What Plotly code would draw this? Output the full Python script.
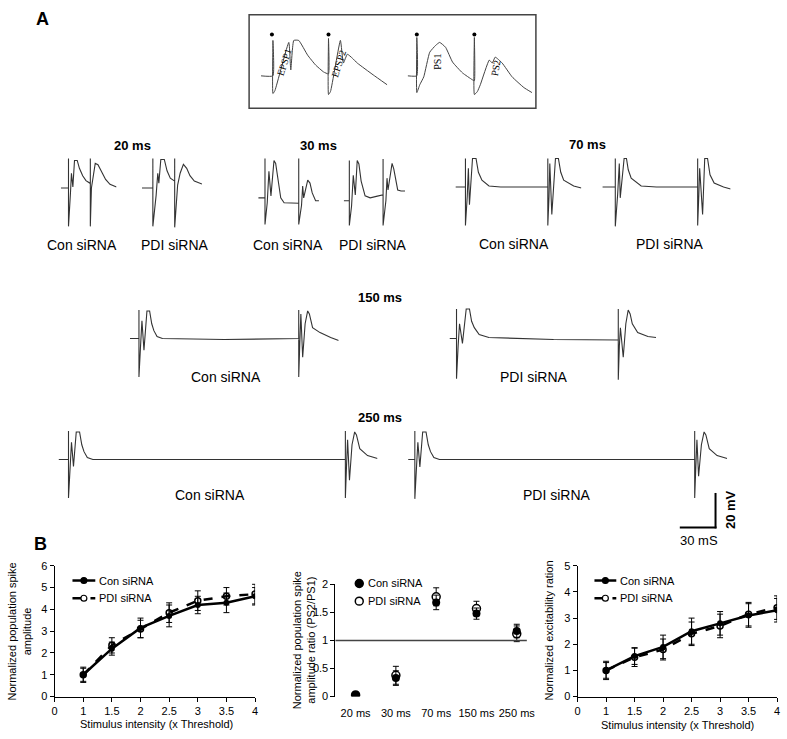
import plotly.graph_objects as go

W, H = 787, 739

# ---------------- Panel B data ----------------
intensity_labels = ["0", "1", "1.5", "2", "2.5", "3", "3.5", "4"]
stim_x = ["1", "1.5", "2", "2.5", "3", "3.5", "4"]

ps_con = [1.0, 2.2, 3.15, 3.7, 4.2, 4.3, 4.6]
ps_con_err = [0.35, 0.3, 0.45, 0.5, 0.4, 0.45, 0.4]
ps_pdi = [1.0, 2.35, 3.1, 3.85, 4.4, 4.6, 4.7]
ps_pdi_err = [0.3, 0.35, 0.4, 0.45, 0.45, 0.4, 0.45]

ppr_cats = ["20 ms", "30 ms", "70 ms", "150 ms", "250 ms"]
ppr_con = [0.03, 0.33, 1.68, 1.48, 1.17]
ppr_con_err = [0.02, 0.13, 0.13, 0.1, 0.12]
ppr_pdi = [0.03, 0.38, 1.78, 1.57, 1.12]
ppr_pdi_err = [0.02, 0.16, 0.16, 0.13, 0.14]

ex_con = [1.0, 1.55, 1.9, 2.5, 2.8, 3.1, 3.3]
ex_con_err = [0.35, 0.32, 0.45, 0.5, 0.45, 0.45, 0.45]
ex_pdi = [1.0, 1.5, 1.8, 2.4, 2.7, 3.15, 3.4]
ex_pdi_err = [0.3, 0.35, 0.4, 0.45, 0.45, 0.45, 0.45]

series_names = ["Con siRNA", "PDI siRNA"]

# ---------------- Panel A data: recordings (ms from 1st stimulus, mV from baseline) ----------------
rec_intervals = [20, 20, 30, 30, 70, 70, 150, 150, 250, 250]
rec_groups = ["Con siRNA", "PDI siRNA"] * 5

t_20_con = [-7, 0, 0, 0, 1.8, 2.7, 4.0, 5.5, 8.0, 10, 13, 16, 19.5, 20, 20, 20, 21, 22.5, 24.5, 27, 30, 34, 38, 44]
v_20_con = [0, 0, 12, -15.6, -2, 6, 0.4, 11.2, 11.2, 8, 5, 3, 2, 2, 12, -15.6, 0, 5, 10, 9.5, 7, 3.5, 1.5, 0.4]
t_20_pdi = [-10, 0, 0, 0, 3, 4.5, 5.5, 7.3, 10.5, 13, 16, 19.5, 20, 20, 20, 22.7, 25, 28, 31, 34, 38, 45]
v_20_pdi = [0, 0, 12, -15.6, -3, 6, 2, 11.6, 11.6, 7, 4, 2.8, 2.8, 12, -16, 1.2, 6, 9.6, 8, 5, 2.8, 1.6]
t_30_con = [-6, 0, 0, 0, 2, 3.5, 5.3, 8, 9.5, 11.5, 14, 17, 24, 30, 30, 30, 32.5, 33.5, 34.4, 38, 40, 42, 45, 48]
v_30_con = [0, 0, 16, -10.8, -2, 10.8, 0.8, 15.2, 14, 7, 0, -2, -2.2, -2.2, 16, -10.8, -3, 4.8, 0, 7.2, 6, 2, -1.2, -1.2]
t_30_pdi = [-5, 0, 0, 0, 2, 3.5, 5.3, 7, 8.5, 10.5, 14, 18.5, 24, 30, 30, 30, 32.5, 33.5, 34.4, 38, 39.5, 43, 46, 49.5]
v_30_pdi = [0, 0, 16.4, -10, -2, 10.4, 2.4, 16.4, 15, 8, 2, 1.2, 1.8, 2.4, 17, -10, 0, 9.2, 4.4, 15.2, 13, 4.4, 4, 4]
t_70_con = [-8.5, 0, 0, 0, 1.5, 2.5, 3.4, 6, 9, 11, 14, 20, 30, 70, 70, 70, 71, 71.7, 73.4, 76.5, 79, 81, 83.5, 92, 98.5]
v_70_con = [0, 0, 11.6, -15.6, -4, 7.6, -7.2, 11.6, 11.6, 6, 2.8, 0.4, 0, 0, 11.6, -15.6, -4, 9.6, -11.2, 11.6, 11.6, 6, 2.8, 0.4, -0.4]
t_70_pdi = [-11, 0, 0, 0, 2, 3.4, 4.2, 7.5, 9.5, 11, 13.5, 22, 35, 70, 70, 70, 71, 71.7, 74.2, 76, 78.4, 80.5, 84, 92, 98]
v_70_pdi = [0, 0, 11.6, -16, -3, 9.6, -4.4, 11.6, 11.6, 7, 3.6, 0.4, 0, 0, 11.6, -15.6, -3, 7.6, -11.2, 11.6, 11.6, 5, 1.6, 0, -0.8]
t_150_con = [-8.5, 0, 0, 0, 1.5, 2.8, 4.7, 7.5, 10, 12, 14, 17, 22, 80, 150, 150, 150, 151, 152, 153.7, 156, 158.4, 160, 163, 170, 180, 187.5]
v_150_con = [0, 0, 11.6, -15.6, -3, 7.2, -4.8, 11.2, 11.2, 6, 3.2, 0.8, 0, -0.4, 0, 11.6, -15.6, -2, 10, -7.6, 6, 11.2, 10, 4.4, 2.4, 0.4, -0.8]
t_150_pdi = [-6.5, 0, 0, 0, 1.5, 2.8, 5.5, 9, 12, 14, 16.5, 21, 30, 90, 150, 150, 150, 151, 152, 154.6, 157, 159.2, 161, 163, 168, 177.5, 185]
v_150_pdi = [0, 0, 12, -16.4, -3, 6, -2, 12, 12, 7, 4.4, 1.6, 0.4, -0.4, -0.6, 12, -16.8, -3, 4.4, -7.6, 6, 11.6, 10, 6, 2.4, 0.8, 0.4]
t_250_con = [-9, 0, 0, 0, 1.5, 2.7, 4.5, 7, 10, 12, 14, 17, 22, 120, 250, 250, 250, 251, 252, 253.7, 256, 258.4, 260, 263, 270, 279]
v_250_con = [0, 0, 11.6, -15.6, -3, 7, -2.8, 11.2, 11.2, 6, 3.2, 0.8, 0, 0, 0, 11.6, -15.6, -3, 8, -8.4, 6, 11.2, 10, 4.4, 1.6, 0.4]
t_250_pdi = [-6, 0, 0, 0, 1.5, 2.7, 4.5, 7, 10, 12, 14, 17, 22, 120, 250, 250, 250, 251, 252, 253.5, 256, 258.4, 260, 263, 270, 279]
v_250_pdi = [0, 0, 11.6, -16, -3, 7, -3, 11.2, 11.2, 6, 3.2, 0.8, 0, 0, 0, 11.6, -15.6, -3, 8, -6.8, 6, 11.2, 10, 4.4, 1.6, 0.4]

rec_t = [t_20_con, t_20_pdi, t_30_con, t_30_pdi, t_70_con, t_70_pdi, t_150_con, t_150_pdi, t_250_con, t_250_pdi]
rec_v = [v_20_con, v_20_pdi, v_30_con, v_30_pdi, v_70_con, v_70_pdi, v_150_con, v_150_pdi, v_250_con, v_250_pdi]

# schematic inset (ms, mV)
inset_a_t = [6, 12, 12, 12, 13, 20, 21, 22.5, 25, 29.5, 33.5, 37.5, 40, 40, 40, 41, 46, 47.5, 49.5, 52, 54.5, 62.5, 69.5]
inset_a_v = [0, 0, 18, -9, -7.5, 17, 3, 18, 18, 10.5, 5.5, 2, 1, 19, -9.5, -8, 18, 6.5, 11, 9, 6.5, 0.5, -4.5]
inset_b_t = [80, 84.5, 84.5, 84.5, 86, 88, 91, 94, 96, 99, 102.5, 107.5, 112.5, 113.5, 113.5, 113.5, 115, 116.5, 121, 122.5, 124, 127.5, 132.5, 138.5, 142.5]
inset_b_v = [0, 0, 19.5, -8.5, -4.5, -0.5, 12, 15.5, 17, 14.5, 7, 1.5, -2, -2.5, 19.5, -9.5, -8, -4.5, 8, 6.5, 9.5, 6.5, -0.5, -6, -8.5]
inset_stim_t = [11.5, 40, 84.5, 113.5]
inset_stim_v = [21, 21, 21, 21]

# ---------------- layout positions (pixels) ----------------
REC_POS = [(66, 88, 185), (151, 173, 185), (264, 298, 195), (349, 383, 198), (466, 549, 184),
           (617, 700, 184), (137, 298, 338), (457, 620, 338), (66, 345, 461), (415, 697, 461)]
MV_PX = 2.5
TRACE_COLOR = "#333333"
FONT = "Liberation Sans, Arial, sans-serif"


def fx(px):
    return px / W


def fy(py):
    return 1 - py / H


fig = go.Figure()
layout = dict(width=W, height=H, margin=dict(l=0, r=0, t=0, b=0), paper_bgcolor="white",
              plot_bgcolor="rgba(0,0,0,0)", font=dict(family=FONT, color="black"), showlegend=False)
axis_n = [0]


def add_axes(xdom, ydom, xrange, yrange, xkw=None, ykw=None):
    axis_n[0] += 1
    n = axis_n[0]
    sx = "" if n == 1 else str(n)
    hidden = dict(visible=False, showgrid=False, zeroline=False, fixedrange=True)
    xa = dict(hidden, domain=[fx(xdom[0]), fx(xdom[1])], range=xrange, anchor="y" + sx)
    ya = dict(hidden, domain=[fy(ydom[1]), fy(ydom[0])], range=yrange, anchor="x" + sx)
    if xkw:
        xa.update(xkw)
    if ykw:
        ya.update(ykw)
    layout["xaxis" + sx] = xa
    layout["yaxis" + sx] = ya
    return "x" + sx, "y" + sx


# ---- recordings ----
for t, v, ivl, pos in zip(rec_t, rec_v, rec_intervals, REC_POS):
    s1, s2, base = pos
    sc = (s2 - s1) / ivl
    xd = (s1 + t[0] * sc, s1 + t[-1] * sc)
    yd = (base - 24 * MV_PX, base + 24 * MV_PX)
    xr, yr = add_axes(xd, yd, [t[0], t[-1]], [-24, 24])
    fig.add_trace(go.Scatter(x=t, y=v, mode="lines", line=dict(color=TRACE_COLOR, width=1.1),
                             xaxis=xr, yaxis=yr, hoverinfo="skip", cliponaxis=False))

# ---- inset ----
xr, yr = add_axes((248, 538), (9, 104), [0, 145], [-16.5, 31])
for it, iv in [(inset_a_t, inset_a_v), (inset_b_t, inset_b_v)]:
    fig.add_trace(go.Scatter(x=it, y=iv, mode="lines",
                             line=dict(color="#444", width=1, shape="spline", smoothing=0.4),
                             xaxis=xr, yaxis=yr, hoverinfo="skip"))
fig.add_trace(go.Scatter(x=inset_stim_t, y=inset_stim_v, mode="markers", marker=dict(color="black", size=4),
                         xaxis=xr, yaxis=yr, hoverinfo="skip"))

shapes = [dict(type="rect", xref="paper", yref="paper", x0=fx(248), x1=fx(537), y0=fy(104), y1=fy(9),
               line=dict(color="#444", width=1.5))]

# scale bar
shapes.append(dict(type="line", xref="paper", yref="paper", x0=fx(718), x1=fx(718), y0=fy(495), y1=fy(531),
                   line=dict(color="black", width=2)))
shapes.append(dict(type="line", xref="paper", yref="paper", x0=fx(682), x1=fx(719), y0=fy(530), y1=fy(530),
                   line=dict(color="black", width=2)))

# ---------------- Panel B charts ----------------
ax_common = dict(visible=True, showline=True, linecolor="black", linewidth=1, ticks="outside", ticklen=4,
                 tickcolor="black", tickfont=dict(size=11, family=FONT), showgrid=False, zeroline=False,
                 ticklabeloverflow="allow")

xpos = [intensity_labels.index(s) for s in stim_x]
n_int = len(intensity_labels)

x1, y1 = add_axes((52, 254), (569, 702), [0, n_int - 1], [0, 6],
                  xkw=dict(ax_common, tickvals=list(range(n_int)), ticktext=intensity_labels),
                  ykw=dict(ax_common, tickvals=[0, 1, 2, 3, 4, 5, 6]))
x2, y2 = add_axes((335, 538), (588, 702), [-0.5, 4.5], [0, 2],
                  xkw=dict(ax_common, showline=False, ticks="", tickvals=list(range(len(ppr_cats))),
                           ticktext=ppr_cats, ticklabelstandoff=8),
                  ykw=dict(ax_common, tickvals=[0, 0.5, 1, 1.5, 2]))
x3, y3 = add_axes((579, 780), (569, 702), [0, n_int - 1], [0, 5],
                  xkw=dict(ax_common, tickvals=list(range(n_int)), ticktext=intensity_labels),
                  ykw=dict(ax_common, tickvals=[0, 1, 2, 3, 4, 5]))


def err(a):
    return dict(type="data", array=a, color="black", thickness=1, width=3)


for xa, ya, con, conE, pdi, pdiE in [(x1, y1, ps_con, ps_con_err, ps_pdi, ps_pdi_err),
                                     (x3, y3, ex_con, ex_con_err, ex_pdi, ex_pdi_err)]:
    fig.add_trace(go.Scatter(x=xpos, y=pdi, error_y=err(pdiE), mode="lines+markers", name=series_names[1],
                             line=dict(color="black", width=2.5, dash="dash"),
                             marker=dict(symbol="circle-open", size=6, color="black", line=dict(width=1.5)),
                             xaxis=xa, yaxis=ya))
    fig.add_trace(go.Scatter(x=xpos, y=con, error_y=err(conE), mode="lines+markers", name=series_names[0],
                             line=dict(color="black", width=2.5),
                             marker=dict(symbol="circle", size=6, color="black"),
                             xaxis=xa, yaxis=ya))

cpos = list(range(len(ppr_cats)))
fig.add_trace(go.Scatter(x=cpos, y=ppr_pdi, error_y=err(ppr_pdi_err), mode="markers", name=series_names[1],
                         marker=dict(symbol="circle", size=8, color="white", line=dict(color="black", width=1.5)),
                         xaxis=x2, yaxis=y2))
fig.add_trace(go.Scatter(x=cpos, y=ppr_con, error_y=err(ppr_con_err), mode="markers", name=series_names[0],
                         marker=dict(symbol="circle", size=8, color="black"),
                         xaxis=x2, yaxis=y2))

shapes.append(dict(type="line", xref=f"x{x2[1:]} domain", yref=y2, x0=0, x1=0.95, y0=1, y1=1,
                   line=dict(color="#444", width=1.5)))

# ---------------- text ----------------
ann = []


def text(s, x, y, size=13, bold=False, angle=0, family=FONT, anchor="center"):
    ann.append(dict(text=f"<b>{s}</b>" if bold else s, x=fx(x), y=fy(y), xref="paper", yref="paper",
                    showarrow=False, textangle=angle, font=dict(size=size, family=family, color="black"),
                    xanchor=anchor, yanchor="middle"))


def legend_line(x0, x1, y, dash, filled):
    shapes.append(dict(type="line", xref="paper", yref="paper", x0=fx(x0), x1=fx(x1), y0=fy(y), y1=fy(y),
                       line=dict(color="black", width=2.5, dash=dash)))
    cx = (x0 + x1) / 2
    shapes.append(dict(type="circle", xref="paper", yref="paper", x0=fx(cx - 3), x1=fx(cx + 3),
                       y0=fy(y + 3), y1=fy(y - 3), fillcolor="black" if filled else "white",
                       line=dict(color="black", width=1.2)))


def legend_dot(cx, y, filled):
    shapes.append(dict(type="circle", xref="paper", yref="paper", x0=fx(cx - 4), x1=fx(cx + 4),
                       y0=fy(y + 4), y1=fy(y - 4), fillcolor="black" if filled else "white",
                       line=dict(color="black", width=1.5)))


legend_line(70, 93, 584, "solid", True)
legend_line(70, 93, 602, "dash", False)
text(series_names[0], 95, 584, size=11, anchor="left")
text(series_names[1], 95, 602, size=11, anchor="left")

legend_dot(359, 587, True)
legend_dot(359, 605, False)
text(series_names[0], 366, 587, size=11, anchor="left")
text(series_names[1], 366, 605, size=11, anchor="left")

legend_line(596, 618, 584, "solid", True)
legend_line(596, 618, 602, "dash", False)
text(series_names[0], 620, 584, size=11, anchor="left")
text(series_names[1], 620, 602, size=11, anchor="left")

text("A", 40, 13, size=18, bold=True)
text("B", 38, 547, size=18, bold=True)

for s, x, y in [("20 ms", 130, 142), ("30 ms", 318, 142), ("70 ms", 589, 141), ("150 ms", 380, 296),
                ("250 ms", 380, 418)]:
    text(s, x, y, size=13, bold=True)

for s, x, y in [("Con siRNA", 80, 243), ("PDI siRNA", 173, 243), ("Con siRNA", 287, 243),
                ("PDI siRNA", 373, 243), ("Con siRNA", 515, 242), ("PDI siRNA", 672, 242),
                ("Con siRNA", 225, 377), ("PDI siRNA", 535, 377),
                ("Con siRNA", 209, 497), ("PDI siRNA", 558, 497)]:
    text(s, x, y, size=14)

text("20 mV", 733, 512, size=13, bold=True, angle=-90)
text("30 mS", 701, 543, size=13)

SERIF = "Liberation Serif, Times New Roman, serif"
text("EPSP1", 283, 57, size=10, angle=-72, family=SERIF)
text("EPSP2", 338, 58, size=10, angle=-72, family=SERIF)
text("PS1", 437, 57, size=10, angle=-90, family=SERIF)
text("PS2", 497, 63, size=10, angle=-80, family=SERIF)

text("Normalized population spike<br>amplitude", 16, 636, size=11, angle=-90)
text("Stimulus intensity (x Threshold)", 155, 730, size=11)
text("Normalized population spike<br>amplitude ratio (PS2/PS1)", 303, 645, size=11, angle=-90)
text("Normalized excitability ration", 550, 635, size=11, angle=-90)
text("Stimulus intensity (x Threshold)", 680, 731, size=11)

layout["annotations"] = ann
layout["shapes"] = shapes
fig.update_layout(**layout)
fig.write_html("out.html", config={"displayModeBar": False, "staticPlot": True},
               post_script="document.body.style.margin='0px';document.body.style.padding='0px';")
